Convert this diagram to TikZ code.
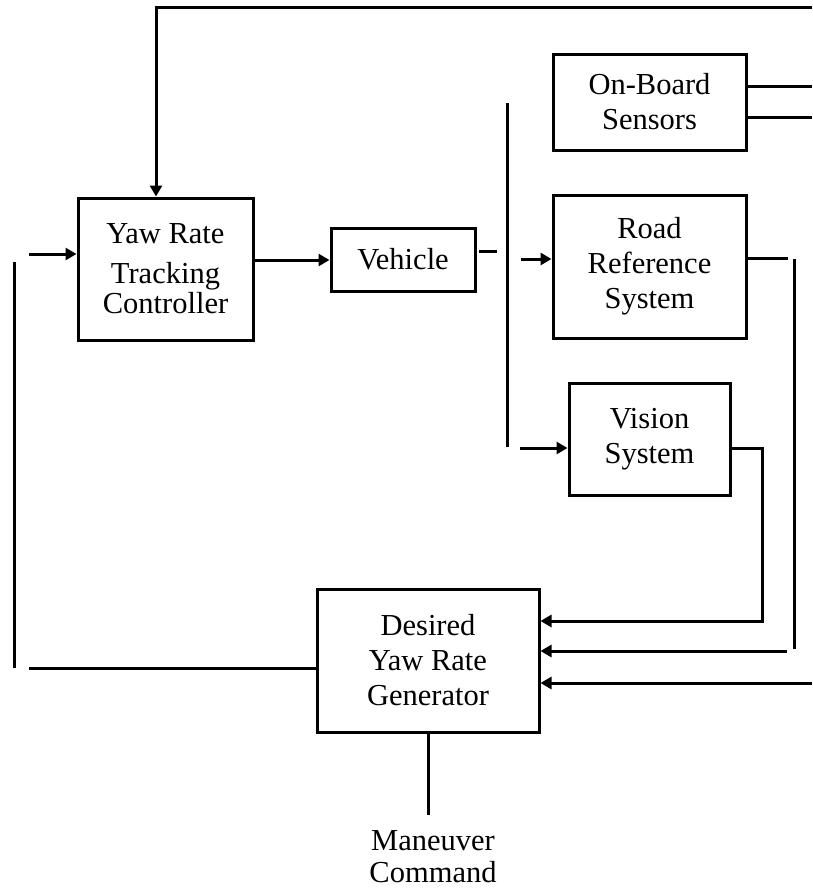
\documentclass[tikz,border=0pt]{standalone}
\usepackage{fontspec}
\setmainfont{Liberation Serif}
\usetikzlibrary{arrows.meta,calc}
\begin{document}
\begin{tikzpicture}[x=1pt,y=-1pt,
  every node/.style={font=\fontsize{30.5}{35}\selectfont},
  box/.style={draw,line width=3pt,align=center,inner sep=0pt},
  ln/.style={line width=3pt},
  arr/.style={line width=3pt,-{Triangle[length=11pt,width=12pt]}}]
\useasboundingbox (0,0) rectangle (812,892);
% blocks
\node[box,minimum width=175pt,minimum height=142pt] (yrtc) at (165.5,269) {Yaw Rate\\[5pt]Tracking\\[-5pt]Controller};
\node[box,minimum width=144pt,minimum height=63pt] (veh) at (403,259.5) {Vehicle};
\node[box,minimum width=193pt,minimum height=96pt] (onb) at (649.5,102) {On-Board\\Sensors};
\node[box,minimum width=193pt,minimum height=143pt] (road) at (649.5,266.5) {Road\\Reference\\System};
\node[box,minimum width=161pt,minimum height=112pt] (vis) at (649.5,439) {Vision\\System};
\node[box,minimum width=222pt,minimum height=143pt] (des) at (428,660.5) {Desired\\Yaw Rate\\Generator};
\node[align=center,font=\fontsize{30.5}{32}\selectfont] (man) at (433,857) {Maneuver\\Command};
% free ends
\coordinate (topR) at (812,7);
\coordinate (topL) at (156,7);
\coordinate (lin) at (29,254);
\coordinate (d1) at (479,251);
\coordinate (d2) at (497,251);
\coordinate (busT) at (507,103);
\coordinate (busB) at (507,447);
\coordinate (rin) at (521,259);
\coordinate (vin) at (520,448);
\coordinate (o1) at (812,86);
\coordinate (o2) at (812,117);
\coordinate (rA) at (788,258);
\coordinate (rB) at (794,259);
\coordinate (rC) at (794,649);
\coordinate (rD) at (787,651);
\coordinate (vA) at (762,448);
\coordinate (vB) at (762,621);
\coordinate (ext) at (812,683);
\coordinate (lT) at (14,262);
\coordinate (lB) at (14,668);
\coordinate (lS) at (29,668);
\coordinate (stem) at (428,815);
% connectors
\draw[arr] (topR) -- (topL) -- (topL |- yrtc.north);
\draw[arr] (lin) -- (lin -| yrtc.west);
\draw[arr] (yrtc.east |- 0,260) -- (veh.west |- 0,260);
\draw[ln] (d1) -- (d2);
\draw[ln] (busT) -- (busB);
\draw[arr] (rin) -- (rin -| road.west);
\draw[arr] (vin) -- (vin -| vis.west);
\draw[ln] (onb.east |- o1) -- (o1);
\draw[ln] (onb.east |- o2) -- (o2);
\draw[ln] (road.east |- rA) -- (rA);
\draw[ln] (rB) -- (rC);
\draw[arr] (rD) -- (rD -| des.east);
\draw[arr] (vis.east |- vA) -- (vA) -- (vB) -- (vB -| des.east);
\draw[arr] (ext) -- (ext -| des.east);
\draw[ln] (lT) -- (lB);
\draw[ln] (lS) -- (lS -| des.west);
\draw[ln] (des.south) -- (stem);
\end{tikzpicture}
\end{document}
